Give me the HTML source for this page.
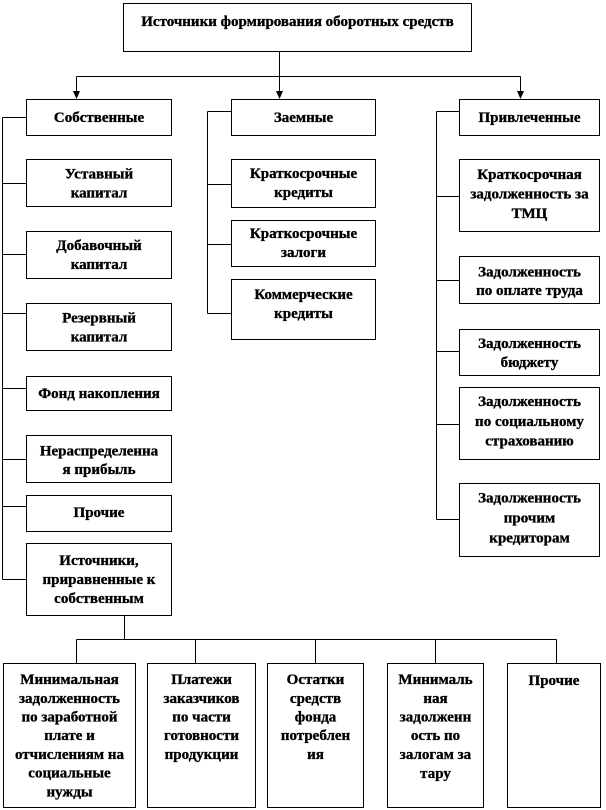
<!DOCTYPE html>
<html>
<head>
<meta charset="utf-8">
<style>
  html, body { margin: 0; padding: 0; background: #fff; }
  svg { display: block; }
  text { font-family: "Liberation Serif", "DejaVu Serif", serif; font-weight: bold; font-size: 15px; fill: #000; stroke: #000; stroke-width: 0.35px; }
</style>
</head>
<body>
<svg width="606" height="810" viewBox="0 0 606 810" xmlns="http://www.w3.org/2000/svg">
  <g fill="none" stroke="#000" stroke-width="1" shape-rendering="crispEdges">
    <rect x="123.5" y="3.5" width="348" height="48"/>
    <path d="M279.5 51.5 V92"/>
    <path d="M76.5 76.5 H520.5"/>
    <path d="M76.5 76.5 V92"/>
    <path d="M520.5 76.5 V92"/>
    <rect x="26.5" y="99.5" width="145" height="36"/>
    <rect x="231.5" y="99.5" width="144" height="36"/>
    <rect x="459.5" y="99.5" width="140" height="36"/>

    <path d="M2.5 117.5 V579.5"/>
    <path d="M2.5 117.5 H26.5"/>
    <path d="M2.5 183.5 H26.5"/>
    <path d="M2.5 254.5 H26.5"/>
    <path d="M2.5 313.5 H26.5"/>
    <path d="M2.5 388.5 H26.5"/>
    <path d="M2.5 459.5 H26.5"/>
    <path d="M2.5 506.5 H26.5"/>
    <path d="M2.5 579.5 H26.5"/>
    <rect x="26.5" y="159.5" width="145" height="47"/>
    <rect x="26.5" y="231.5" width="145" height="47"/>
    <rect x="26.5" y="303.5" width="145" height="47"/>
    <rect x="26.5" y="376.5" width="145" height="34"/>
    <rect x="26.5" y="435.5" width="145" height="47"/>
    <rect x="26.5" y="495.5" width="145" height="36"/>
    <rect x="26.5" y="543.5" width="145" height="72"/>

    <path d="M207.5 111.5 V313.5"/>
    <path d="M207.5 111.5 H231.5"/>
    <path d="M207.5 184.5 H231.5"/>
    <path d="M207.5 244.5 H231.5"/>
    <path d="M207.5 313.5 H231.5"/>
    <rect x="231.5" y="159.5" width="144" height="48"/>
    <rect x="231.5" y="220.5" width="144" height="46"/>
    <rect x="231.5" y="279.5" width="144" height="60"/>

    <path d="M436.5 111.5 V519.5"/>
    <path d="M436.5 111.5 H459.5"/>
    <path d="M436.5 196.5 H459.5"/>
    <path d="M436.5 280.5 H459.5"/>
    <path d="M436.5 351.5 H459.5"/>
    <path d="M436.5 424.5 H459.5"/>
    <path d="M436.5 519.5 H459.5"/>
    <rect x="459.5" y="159.5" width="140" height="72"/>
    <rect x="459.5" y="256.5" width="140" height="47"/>
    <rect x="459.5" y="329.5" width="140" height="46"/>
    <rect x="459.5" y="387.5" width="140" height="72"/>
    <rect x="459.5" y="483.5" width="140" height="73"/>

    <path d="M124.5 615.5 V639.5"/>
    <path d="M76.5 639.5 H556.5"/>
    <path d="M76.5 639.5 V663.5"/>
    <path d="M195.5 639.5 V663.5"/>
    <path d="M315.5 639.5 V663.5"/>
    <path d="M435.5 639.5 V663.5"/>
    <path d="M556.5 639.5 V663.5"/>
    <rect x="3.5" y="663.5" width="132" height="144"/>
    <rect x="147.5" y="663.5" width="108" height="144"/>
    <rect x="267.5" y="663.5" width="96" height="144"/>
    <rect x="387.5" y="663.5" width="96" height="144"/>
    <rect x="507.5" y="663.5" width="93" height="144"/>
  </g>

  <g fill="#000" stroke="none">
    <polygon points="73,91 80,91 76.5,99"/>
    <polygon points="276,91 283,91 279.5,99"/>
    <polygon points="517,91 524,91 520.5,99"/>
  </g>

  <g text-anchor="middle">
    <text x="297.5" y="26">Источники формирования оборотных средств</text>

    <text x="99" y="122">Собственные</text>
    <text x="303.5" y="122">Заемные</text>
    <text x="529.5" y="122">Привлеченные</text>

    <text x="99" y="178.5">Уставный</text>
    <text x="99" y="197.5">капитал</text>
    <text x="99" y="250">Добавочный</text>
    <text x="99" y="269">капитал</text>
    <text x="99" y="322.5">Резервный</text>
    <text x="99" y="341.5">капитал</text>
    <text x="99" y="398">Фонд накопления</text>
    <text x="99" y="455.5">Нераспределенна</text>
    <text x="99" y="474">я прибыль</text>
    <text x="99" y="517">Прочие</text>
    <text x="99" y="565">Источники,</text>
    <text x="99" y="584">приравненные к</text>
    <text x="99" y="603">собственным</text>

    <text x="303.5" y="178">Краткосрочные</text>
    <text x="303.5" y="197">кредиты</text>
    <text x="303.5" y="238">Краткосрочные</text>
    <text x="303.5" y="257">залоги</text>
    <text x="303.5" y="299">Коммерческие</text>
    <text x="303.5" y="318">кредиты</text>

    <text x="529.5" y="179">Краткосрочная</text>
    <text x="529.5" y="198.5">задолженность за</text>
    <text x="529.5" y="218">ТМЦ</text>
    <text x="529.5" y="276.5">Задолженность</text>
    <text x="529.5" y="295">по оплате труда</text>
    <text x="529.5" y="348">Задолженность</text>
    <text x="529.5" y="367">бюджету</text>
    <text x="529.5" y="406">Задолженность</text>
    <text x="529.5" y="426">по социальному</text>
    <text x="529.5" y="445.5">страхованию</text>
    <text x="529.5" y="502.5">Задолженность</text>
    <text x="529.5" y="522.5">прочим</text>
    <text x="529.5" y="542.5">кредиторам</text>

    <text x="69.5" y="684">Минимальная</text>
    <text x="69.5" y="703">задолженность</text>
    <text x="69.5" y="721.5">по заработной</text>
    <text x="69.5" y="740">плате и</text>
    <text x="69.5" y="759">отчислениям на</text>
    <text x="69.5" y="777.5">социальные</text>
    <text x="69.5" y="796.5">нужды</text>

    <text x="201.5" y="684">Платежи</text>
    <text x="201.5" y="703">заказчиков</text>
    <text x="201.5" y="721.5">по части</text>
    <text x="201.5" y="740">готовности</text>
    <text x="201.5" y="759">продукции</text>

    <text x="315.5" y="684">Остатки</text>
    <text x="315.5" y="703">средств</text>
    <text x="315.5" y="721.5">фонда</text>
    <text x="315.5" y="740">потреблен</text>
    <text x="315.5" y="759">ия</text>

    <text x="435.5" y="684">Минималь</text>
    <text x="435.5" y="703">ная</text>
    <text x="435.5" y="721.5">задолженн</text>
    <text x="435.5" y="740">ость по</text>
    <text x="435.5" y="759">залогам за</text>
    <text x="435.5" y="778">тару</text>

    <text x="554" y="685">Прочие</text>
  </g>
</svg>
</body>
</html>
